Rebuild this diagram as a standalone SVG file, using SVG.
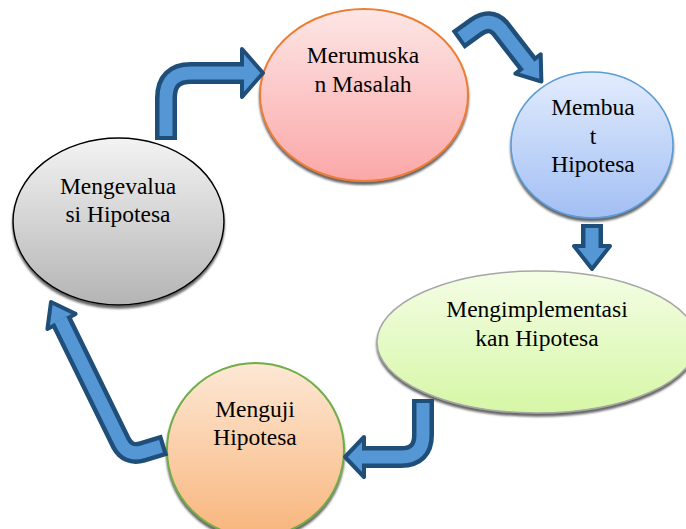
<svg xmlns="http://www.w3.org/2000/svg" width="686" height="529" viewBox="0 0 686 529">
  <style>
    .lbl { font-family: "Liberation Serif", "DejaVu Serif", "Noto Serif", serif; font-size: 23.5px; fill: #000; text-anchor: middle; }
    .shaft-out { fill: none; stroke: #1f4e79; stroke-width: 22; stroke-linejoin: round; }
    .shaft-in { fill: none; stroke: #5596d5; stroke-width: 13; stroke-linejoin: round; }
    .head { fill: #5596d5; stroke: #1f4e79; stroke-width: 4; stroke-linejoin: round; }
    .node ellipse { filter: url(#shadow); }
  </style>
  <defs>
    <filter id="shadow" x="-10%" y="-10%" width="120%" height="125%">
      <feDropShadow dx="0" dy="3" stdDeviation="1" flood-color="#555" flood-opacity="0.9"/>
    </filter>
    <linearGradient id="gPink" x1="0" y1="0" x2="0" y2="1">
      <stop offset="0" stop-color="#fde6e6"/>
      <stop offset="1" stop-color="#fba7a7"/>
    </linearGradient>
    <linearGradient id="gBlue" x1="0" y1="0" x2="0" y2="1">
      <stop offset="0" stop-color="#e2ecfd"/>
      <stop offset="1" stop-color="#a2bff4"/>
    </linearGradient>
    <linearGradient id="gGreen" x1="0" y1="0" x2="0" y2="1">
      <stop offset="0" stop-color="#f4fde5"/>
      <stop offset="1" stop-color="#d6f7a6"/>
    </linearGradient>
    <linearGradient id="gOrange" x1="0" y1="0" x2="0" y2="1">
      <stop offset="0" stop-color="#fde8d5"/>
      <stop offset="1" stop-color="#f8b57c"/>
    </linearGradient>
    <linearGradient id="gGray" x1="0" y1="0" x2="0" y2="1">
      <stop offset="0" stop-color="#f3f3f3"/>
      <stop offset="1" stop-color="#b4b4b4"/>
    </linearGradient>
  </defs>

  <!-- cycle steps -->
  <g id="merumuskan-masalah" class="node">
    <ellipse cx="364" cy="95" rx="104" ry="86" fill="url(#gPink)" stroke="#ed7d31" stroke-width="2"/>
    <text class="lbl" x="363" y="63">Merumuska</text>
    <text class="lbl" x="363" y="92">n Masalah</text>
  </g>

  <g id="membuat-hipotesa" class="node">
    <ellipse cx="592" cy="145" rx="81" ry="73" fill="url(#gBlue)" stroke="#5b9bd5" stroke-width="1.5"/>
    <text class="lbl" x="593" y="115">Membua</text>
    <text class="lbl" x="593" y="143.5">t</text>
    <text class="lbl" x="593" y="172">Hipotesa</text>
  </g>

  <g id="mengimplementasikan-hipotesa" class="node">
    <ellipse cx="537" cy="342" rx="160" ry="71" fill="url(#gGreen)" stroke="#a6a6a6" stroke-width="1.5"/>
    <text class="lbl" x="537" y="317">Mengimplementasi</text>
    <text class="lbl" x="537" y="346">kan Hipotesa</text>
  </g>

  <g id="menguji-hipotesa" class="node">
    <ellipse cx="255.5" cy="450" rx="88.5" ry="87" fill="url(#gOrange)" stroke="#70ad47" stroke-width="2"/>
    <text class="lbl" x="255" y="417">Menguji</text>
    <text class="lbl" x="255" y="445">Hipotesa</text>
  </g>

  <g id="mengevaluasi-hipotesa" class="node">
    <ellipse cx="118.5" cy="221.5" rx="105.5" ry="83.5" fill="url(#gGray)" stroke="#000" stroke-width="1.5"/>
    <text class="lbl" x="118" y="194">Mengevalua</text>
    <text class="lbl" x="118" y="222">si Hipotesa</text>
  </g>

  <!-- bent block arrows between steps -->
  <g id="connectors">
    <!-- evaluate -> formulate problem -->
    <g>
      <path class="shaft-out" d="M166,140 L166,98 Q166,73 191,73 L243,73"/>
      <polygon class="head" points="242,49 263,73 242,97"/>
      <path class="shaft-in" d="M166,136 L166,98 Q166,73 191,73 L245,73"/>
    </g>
    <!-- formulate problem -> hypothesis -->
    <g>
      <path class="shaft-out" d="M458,40 L476,27 Q490,17 500,28 L528,64"/>
      <polygon class="head" points="540.7,54.3 541.4,81.5 515.3,73.7"/>
      <path class="shaft-in" d="M461.2,37.6 L476,27 Q490,17 500,28 L529.5,66"/>
    </g>
    <!-- hypothesis -> implement -->
    <g>
      <path class="shaft-out" d="M592,224 L592,246"/>
      <polygon class="head" points="574,246 610,246 592,269"/>
      <path class="shaft-in" d="M592,228 L592,248"/>
    </g>
    <!-- implement -> test -->
    <g>
      <path class="shaft-out" d="M423,399 L423,435 Q423,457 401,457 L364,457"/>
      <polygon class="head" points="364,437 345,457 364,477"/>
      <path class="shaft-in" d="M423,403 L423,435 Q423,457 401,457 L362,457"/>
    </g>
    <!-- test -> evaluate -->
    <g>
      <path class="shaft-out" d="M165,445 L142,452 Q128,456 121,443 L61.5,321.5"/>
      <polygon class="head" points="75.6,313.9 51,302 47.4,329.1"/>
      <path class="shaft-in" d="M161,446.2 L142,452 Q128,456 121,443 L60.5,319.6"/>
    </g>
  </g>
</svg>
